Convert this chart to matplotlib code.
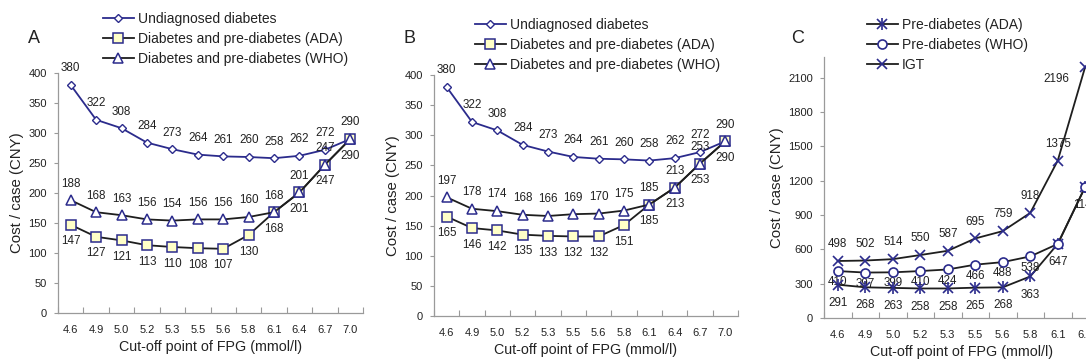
import numpy as np
import matplotlib
matplotlib.use("Agg")
import matplotlib.pyplot as plt

plt.rcParams["font.family"] = ["Liberation Sans", "DejaVu Sans"]

cats = ["4.6", "4.9", "5.0", "5.2", "5.3", "5.5", "5.6", "5.8", "6.1", "6.4", "6.7", "7.0"]
cats_c = ["4.6", "4.9", "5.0", "5.2", "5.3", "5.5", "5.6", "5.8", "6.1", "6.4"]

# panel A
a_undiag = [380, 322, 308, 284, 273, 264, 261, 260, 258, 262, 272, 290]
a_ada = [147, 127, 121, 113, 110, 108, 107, 130, 168, 201, 247, 290]
a_who = [188, 168, 163, 156, 154, 156, 156, 160, 168, 201, 247, 290]

# panel B
b_undiag = [380, 322, 308, 284, 273, 264, 261, 260, 258, 262, 272, 290]
b_ada = [165, 146, 142, 135, 133, 132, 132, 151, 185, 213, 253, 290]
b_who = [197, 178, 174, 168, 166, 169, 170, 175, 185, 213, 253, 290]

# panel C (right edge is cut off in the source)
c_ada = [291, 268, 263, 258, 258, 265, 268, 363, 647, 1147]
c_who = [410, 397, 399, 410, 424, 466, 488, 538, 647, 1147]
c_igt = [498, 502, 514, 550, 587, 695, 759, 918, 1375, 2196]

navy = "#2b2b8c"
dark = "#1e1e1e"
grey = "#9a9a9a"
txt = "#222222"
W, H = 1086, 363


def frame(ax, names, ymax, ystep):
    n = len(names)
    ax.set_xlim(-0.5, n - 0.5)
    ax.set_ylim(0, ymax)
    ax.set_yticks(np.arange(0, ymax + 1, ystep))
    ax.set_xticks(np.arange(-0.5, n, 1))
    ax.set_xticklabels([])
    ax.set_xticks(range(n), minor=True)
    ax.set_xticklabels(names, minor=True)
    ax.tick_params(axis="x", which="major", direction="in", length=4, color=grey)
    ax.tick_params(axis="x", which="minor", length=0, pad=8.5, labelsize=8, labelcolor=txt)
    ax.tick_params(axis="y", direction="out", length=3, color=grey, pad=5,
                   labelsize=8, labelcolor=txt)
    for s in ["top", "right"]:
        ax.spines[s].set_visible(False)
    for s in ["left", "bottom"]:
        ax.spines[s].set_color(grey)
        ax.spines[s].set_linewidth(0.9)
    ax.set_xlabel("Cut-off point of FPG (mmol/l)", fontsize=10.3, color=txt, labelpad=4)
    ax.set_ylabel("Cost / case (CNY)", fontsize=10.8, color=txt, labelpad=3)


def labels(ax, vals, dy, idx=None, dx=0):
    if idx is None:
        idx = range(len(vals))
    for i in idx:
        ax.annotate(str(vals[i]), (i, vals[i]), xytext=(dx, dy), textcoords="offset points",
                    ha="center", va="center", fontsize=8.4, color=txt,
                    annotation_clip=False)


def legend(handles, names, xy):
    fig.legend(handles, names, loc="upper left", bbox_to_anchor=xy, frameon=False,
               fontsize=10, handlelength=2.2, handletextpad=0.3,
               labelspacing=0.43, borderpad=0, borderaxespad=0, labelcolor=txt)


def ab_panel(rect, undiag, ada, who, letter, leg_xy):
    ax = fig.add_axes(rect)
    x = np.arange(len(cats))
    l1, = ax.plot(x, undiag, "-", color=navy, lw=1.3, marker="D", ms=4.5,
                  mfc="white", mec=navy, mew=1.0, zorder=3)
    l2, = ax.plot(x, ada, "-", color=dark, lw=1.3, marker="s", ms=7,
                  mfc="#ffffc8", mec=navy, mew=1.1, zorder=4)
    l3, = ax.plot(x, who, "-", color=dark, lw=1.3, marker="^", ms=6.5,
                  mfc="white", mec=navy, mew=1.1, zorder=4)
    frame(ax, cats, 400, 50)
    labels(ax, undiag, 12)
    labels(ax, who, 12, range(11))
    labels(ax, ada, -12)
    fig.text(rect[0] - 0.028, 0.895, letter, fontsize=13, color=txt, ha="left", va="center")
    legend([l1, l2, l3],
           ["Undiagnosed diabetes", "Diabetes and pre-diabetes (ADA)",
            "Diabetes and pre-diabetes (WHO)"], leg_xy)
    return ax


fig = plt.figure(figsize=(W / 100, H / 100), dpi=100)

ab_panel([58 / W, 50 / H, 305 / W, 240 / H], a_undiag, a_ada, a_who, "A",
         (103 / W, 1 - 12 / H))
ab_panel([434 / W, 47 / H, 304 / W, 241 / H], b_undiag, b_ada, b_who, "B",
         (475 / W, 1 - 18 / H))

# panel C, wider spacing, runs past the figure edge
axc = fig.add_axes([824 / W, 45 / H, 275 / W, 261 / H])
xc = np.arange(len(cats_c))
axc.plot(xc, c_ada, "-", color=dark, lw=1.3, zorder=3)
axc.plot(xc, c_ada, "x", color=navy, ms=7, mew=1.2, zorder=4)
axc.plot(xc, c_ada, "|", color=navy, ms=8, mew=1.2, zorder=4)
axc.plot(xc, c_who, "-", color=dark, lw=1.3, marker="o", ms=6.5,
         mfc="white", mec=navy, mew=1.2, zorder=4)
axc.plot(xc, c_igt, "-", color=dark, lw=1.3, marker="x", ms=7,
         mec=navy, mew=1.2, zorder=4)
frame(axc, cats_c, 2280, 300)
axc.set_yticks(np.arange(0, 2101, 300))
labels(axc, c_igt, 12, range(9))
labels(axc, c_igt, -9, [9], dx=-21)
labels(axc, c_who, -8, range(8))
labels(axc, c_ada, -13)
fig.text(791 / W, 0.895, "C", fontsize=13, color=txt, ha="left", va="center")

h_ada = (plt.Line2D([], [], color=dark, lw=1.3),
         plt.Line2D([], [], ls="", marker="x", color=navy, ms=7, mew=1.2),
         plt.Line2D([], [], ls="", marker="|", color=navy, ms=8, mew=1.2))
h_who = plt.Line2D([], [], color=dark, lw=1.3, marker="o", ms=6.5,
                   mfc="white", mec=navy, mew=1.2)
h_igt = plt.Line2D([], [], color=dark, lw=1.3, marker="x", ms=7, mec=navy, mew=1.2)
legend([h_ada, h_who, h_igt], ["Pre-diabetes (ADA)", "Pre-diabetes (WHO)", "IGT"],
       (867 / W, 1 - 18 / H))

fig.savefig("out.png", dpi=100)
